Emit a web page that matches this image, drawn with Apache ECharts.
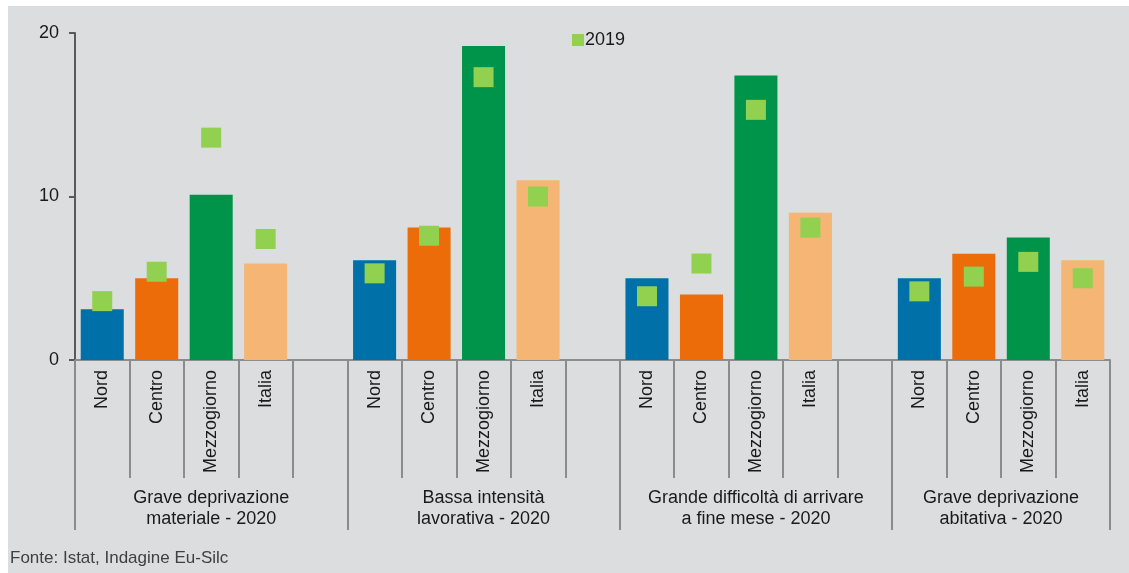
<!DOCTYPE html>
<html>
<head>
<meta charset="utf-8">
<script src="https://cdn.jsdelivr.net/npm/echarts@6/dist/echarts.min.js"></script>
<style>
  html, body { margin: 0; padding: 0; background: #ffffff; }
  #chart { position: absolute; left: 8px; top: 6px; width: 1121px; height: 567px; background: #dcdddf; }
</style>
</head>
<body>
<div id="chart"></div>
<script>
const regioni = ['Nord', 'Centro', 'Mezzogiorno', 'Italia']
const coloriRegioni = ['#0070a8', '#ec6c0a', '#00944a', '#f5b574']
const gruppi = [
  'Grave deprivazione\nmateriale - 2020',
  'Bassa intensità\nlavorativa - 2020',
  'Grande difficoltà di arrivare\na fine mese - 2020',
  'Grave deprivazione\nabitativa - 2020',
]
// valori 2020 (barre), per gruppo
const valori2020 = [
  [3.1, 5.0, 10.1, 5.9],
  [6.1, 8.1, 19.2, 11.0],
  [5.0, 4.0, 17.4, 9.0],
  [5.0, 6.5, 7.5, 6.1],
]
// valori 2019 (quadratini)
const valori2019 = [
  [3.6, 5.4, 13.6, 7.4],
  [5.3, 7.6, 17.3, 10.0],
  [3.9, 5.9, 15.3, 8.1],
  [4.2, 5.1, 6.0, 5.0],
]
const yTicks = [0, 10, 20]

// categorie: 4 regioni + uno spazio vuoto tra i gruppi
const categorie = []
const dati2020 = []
const dati2019 = []
gruppi.forEach((g, gi) => {
  regioni.forEach((r, ri) => {
    categorie.push(r)
    dati2020.push({ value: valori2020[gi][ri], itemStyle: { color: coloriRegioni[ri] } })
    dati2019.push(valori2019[gi][ri])
  })
  if (gi < gruppi.length - 1) {
    categorie.push('')
    dati2020.push('-')
    dati2019.push('-')
  }
})

// asse dei gruppi: mezze posizioni (boundaryGap false)
const nSlot = categorie.length
const mezzi = []
for (let i = 0; i <= nSlot * 2; i++) mezzi.push('')
const inizioGruppi = [0, 5, 10, 15]
const fineGruppi = [5, 10, 15, 19]
const tickGruppi = [0]
gruppi.forEach((g, gi) => {
  mezzi[inizioGruppi[gi] + fineGruppi[gi]] = g
  tickGruppi.push(fineGruppi[gi] * 2)
})
// confini delle colonne (per le linee corte)
const confini = []
for (let i = 0; i <= nSlot; i++) confini.push('c' + i)

const grigio = '#8c8c8c'

const chart = echarts.init(document.getElementById('chart'))
chart.setOption({
  backgroundColor: '#dcdddf',
  textStyle: { fontFamily: 'Liberation Sans, Arial, sans-serif' },
  title: {
    text: 'Fonte: Istat, Indagine Eu-Silc',
    left: 2,
    bottom: 6,
    padding: 0,
    textStyle: {
      fontFamily: 'Liberation Sans Narrow, Liberation Sans, sans-serif',
      fontWeight: 'normal',
      fontSize: 17,
      color: '#404040',
    },
  },
  legend: {
    data: ['2019'],
    left: 559,
    top: 20,
    icon: 'rect',
    itemWidth: 12,
    itemHeight: 12,
    textStyle: { fontSize: 18, color: '#1a1a1a', padding: [0, 0, 0, -4] },
  },
  grid: { left: 67, right: 19, top: 27, bottom: 213, containLabel: false },
  xAxis: [
    {
      type: 'category',
      data: categorie,
      axisLine: { lineStyle: { color: grigio, width: 2 } },
      axisTick: { show: false },
      axisLabel: { interval: 0, rotate: 90, margin: 10, fontSize: 18, color: '#1a1a1a' },
    },
    {
      type: 'category',
      position: 'bottom',
      boundaryGap: false,
      data: mezzi,
      axisLine: { show: false },
      axisTick: {
        show: true,
        interval: (i) => tickGruppi.includes(i),
        length: 170,
        lineStyle: { color: grigio, width: 2 },
      },
      axisLabel: {
        interval: (i) => mezzi[i] !== '',
        margin: 128,
        fontSize: 18,
        lineHeight: 21,
        color: '#1a1a1a',
        align: 'center',
        verticalAlign: 'top',
      },
    },
    {
      type: 'category',
      position: 'bottom',
      boundaryGap: false,
      data: confini,
      axisLine: { show: false },
      axisTick: { show: true, interval: 0, length: 118, lineStyle: { color: grigio, width: 2 } },
      axisLabel: { show: false },
    },
  ],
  yAxis: {
    type: 'value',
    min: yTicks[0],
    max: yTicks[yTicks.length - 1],
    interval: yTicks[1] - yTicks[0],
    axisLine: { show: true, lineStyle: { color: '#595959', width: 2 } },
    axisTick: { show: true, length: 6, lineStyle: { color: '#595959', width: 2 } },
    axisLabel: { fontSize: 18, color: '#1a1a1a', margin: 16 },
    splitLine: { show: false },
  },
  series: [
    {
      name: '2020',
      type: 'bar',
      barWidth: '79%',
      data: dati2020,
    },
    {
      name: '2019',
      type: 'scatter',
      symbol: 'rect',
      symbolSize: 20,
      itemStyle: { color: '#92d050', opacity: 1 },
      data: dati2019,
      z: 3,
    },
  ],
})
</script>
</body>
</html>
